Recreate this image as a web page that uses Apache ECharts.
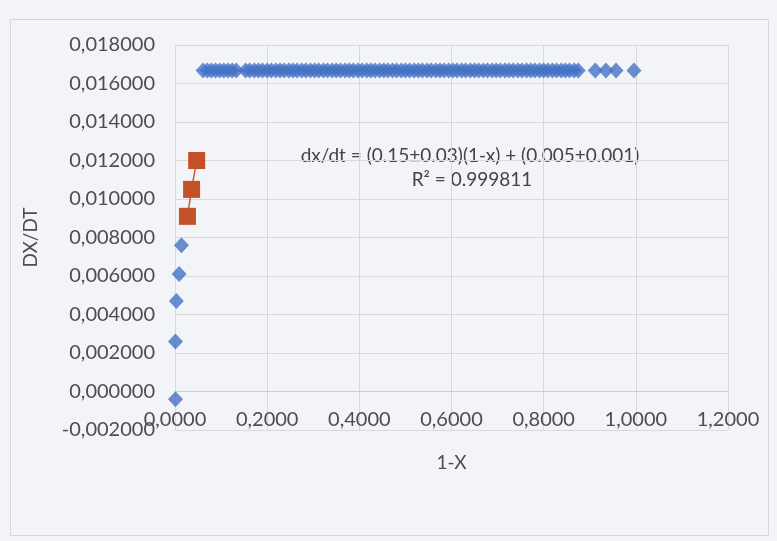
<!DOCTYPE html>
<html>
<head>
<meta charset="utf-8">
<title>dx/dt vs 1-x</title>
<script src="https://cdn.jsdelivr.net/npm/echarts@6/dist/echarts.min.js"></script>
<style>
  html, body { margin: 0; padding: 0; background: #f3f4f8; }
  #chart { width: 777px; height: 541px; }
</style>
</head>
<body>
<div id="chart"></div>
<script>
// Plateau points: conversion term 1-x, all at the same rate
const plateauX = [
  0.061, 0.070, 0.079, 0.088, 0.097, 0.106, 0.115, 0.124, 0.133,
  0.153, 0.162, 0.172, 0.181, 0.190, 0.200, 0.209, 0.219, 0.228, 0.237,
  0.247, 0.256, 0.265, 0.275, 0.284, 0.294, 0.303, 0.312, 0.322, 0.331,
  0.341, 0.350, 0.359, 0.369, 0.378, 0.387, 0.397, 0.406, 0.416, 0.425,
  0.434, 0.444, 0.453, 0.462, 0.472, 0.481, 0.491, 0.500, 0.509, 0.519,
  0.528, 0.537, 0.547, 0.556, 0.566, 0.575, 0.584, 0.594, 0.603, 0.612,
  0.622, 0.631, 0.641, 0.650, 0.659, 0.669, 0.678, 0.688, 0.697, 0.706,
  0.716, 0.725, 0.734, 0.744, 0.753, 0.763, 0.772, 0.781, 0.791, 0.800,
  0.809, 0.819, 0.828, 0.838, 0.847, 0.856, 0.866, 0.875,
  0.912, 0.935, 0.957, 0.996
];
const plateauRate = 0.01667;

// Low-conversion points near the origin
const lowX    = [0.014, 0.009, 0.003, 0.001, 0.001];
const lowRate = [0.0076, 0.0061, 0.0047, 0.0026, -0.0004];

// Points used for the linear fit
const fitX    = [0.047, 0.036, 0.027];
const fitRate = [0.0120, 0.0105, 0.0091];

// Axis ranges and tick steps
const xMin = 0, xMax = 1.2, xStep = 0.2;
const yMin = -0.002, yMax = 0.018, yStep = 0.002;

const fitLine1 = 'dx/dt = (0.15\u00b10.03)(1-x) + (0.005\u00b10.001)';
const fitLine2 = 'R\u00b2 = 0.999811';

const font = 'Lato, "Open Sans", sans-serif';
const labelColor = '#4d4d4d';
const gridColor = '#d9d9d9';

const blueData = plateauX.map(x => [x, plateauRate])
  .concat(lowX.map((x, i) => [x, lowRate[i]]));
const redData = fitX.map((x, i) => [x, fitRate[i]]);

const chart = echarts.init(document.getElementById('chart'), null, { renderer: 'canvas' });
chart.setOption({
  backgroundColor: '#f3f4f8',
  animation: false,
  graphic: [
    {
      type: 'rect',
      shape: { x: 10.5, y: 19.5, width: 758, height: 516 },
      style: { fill: 'none', stroke: '#d4d6dc', lineWidth: 1 },
      z: -10
    },
    {
      type: 'text',
      x: 470, y: 156,
      style: {
        text: fitLine1, align: 'center', verticalAlign: 'middle',
        font: '19px ' + font, fill: '#444444'
      }
    },
    {
      type: 'text',
      x: 472, y: 180,
      style: {
        text: fitLine2, align: 'center', verticalAlign: 'middle',
        font: '19px ' + font, fill: '#444444'
      }
    }
  ],
  grid: { left: 175, right: 49, top: 45, bottom: 111, containLabel: false },
  xAxis: {
    type: 'value',
    min: xMin, max: xMax, interval: xStep,
    position: 'bottom',
    // the horizontal axis sits on the zero line of the rate axis
    offset: -38.5,
    name: '1-X',
    nameLocation: 'middle',
    nameGap: 62,
    nameTextStyle: { color: labelColor, fontFamily: font, fontSize: 19 },
    axisLine: { show: true, onZero: false, lineStyle: { color: '#cfcfcf' } },
    axisTick: { show: false },
    axisLabel: {
      color: labelColor, fontFamily: font, fontSize: 20, margin: 18,
      formatter: v => v.toFixed(4).replace('.', ',')
    },
    splitLine: { show: true, lineStyle: { color: gridColor } }
  },
  yAxis: {
    type: 'value',
    min: yMin, max: yMax, interval: yStep,
    name: 'DX/DT',
    nameLocation: 'middle',
    nameGap: 135,
    nameRotate: 90,
    nameTextStyle: { color: labelColor, fontFamily: font, fontSize: 19 },
    axisLine: { show: false },
    axisTick: { show: false },
    axisLabel: {
      color: labelColor, fontFamily: font, fontSize: 20, margin: 20,
      formatter: v => v.toFixed(6).replace('.', ',')
    },
    splitLine: { show: true, lineStyle: { color: gridColor } }
  },
  series: [
    {
      type: 'scatter',
      data: blueData,
      symbol: 'diamond',
      symbolSize: [15, 16],
      itemStyle: { color: '#4472c4' },
      z: 3
    },
    {
      type: 'line',
      data: redData,
      symbol: 'rect',
      symbolSize: 17,
      showSymbol: true,
      lineStyle: { color: '#c0603a', width: 1.5 },
      itemStyle: { color: '#c4502a' },
      z: 4
    }
  ]
});
</script>
</body>
</html>
